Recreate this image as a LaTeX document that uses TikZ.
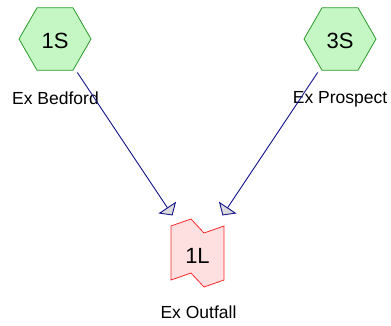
\documentclass[tikz,border=0pt]{standalone}
\usepackage{fontspec}
\setmainfont{Liberation Sans}
\usetikzlibrary{shapes.geometric,arrows.meta}
\definecolor{subfill}{RGB}{197,247,197}
\definecolor{subline}{RGB}{40,155,40}
\definecolor{outfill}{RGB}{255,224,224}
\definecolor{outline}{RGB}{250,40,40}
\definecolor{linkblue}{RGB}{20,20,140}

\begin{document}
\begin{tikzpicture}[x=1pt,y=-1pt,
		sub/.style={regular polygon,regular polygon sides=6,minimum size=72pt,inner sep=0pt,
			draw=subline,fill=subfill,line width=0.8pt,font=\fontsize{22}{26}\selectfont,
			text height=20pt,text depth=0pt},
		outfall/.style={rectangle,minimum width=53pt,minimum height=68pt,inner sep=0pt,
			font=\fontsize{22}{26}\selectfont,text height=20pt,text depth=0pt},
		lbl/.style={anchor=base,font=\fontsize{17.5}{21}\selectfont},
		link/.style={draw=linkblue,line width=0.9pt,shorten <=5pt,shorten >=4pt,
			-{Triangle[open,length=9.5pt,width=21pt,fill=black!14]}}]
		\useasboundingbox (0,0) rectangle (391,326);
		% outfall outline
		\draw[draw=outline,fill=outfill,line width=0.8pt] (171,226) -- (191,219) -- (204,233) -- (224,226)
			-- (224,280) -- (204,287) -- (191,273) -- (171,280) -- cycle;
		\node[sub] (s1) at (55,39) {1S};
		\node[sub] (s3) at (340,39) {3S};
		\node[outfall] (l1) at (197.5,253) {1L};
		\node[lbl] (n1) at (55.5,105) {Ex Bedford};
		\node[lbl] (n3) at (340,104) {Ex Prospect};
		\node[lbl] (nl) at (198.5,318) {Ex Outfall};
		\draw[link] (s1) -- (l1);
		\draw[link] (s3) -- (l1);
	\end{tikzpicture}
\end{document}
